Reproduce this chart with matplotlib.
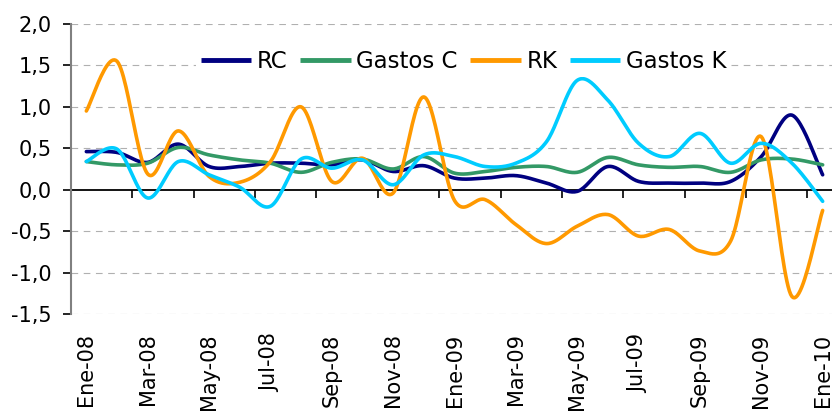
import numpy as np
import matplotlib
matplotlib.use("Agg")
import matplotlib.pyplot as plt

plt.rcParams['font.family'] = ['DejaVu Sans']

# monthly data, Ene-08 .. Ene-10
months = ['Ene-08', 'Feb-08', 'Mar-08', 'Abr-08', 'May-08', 'Jun-08', 'Jul-08',
          'Ago-08', 'Sep-08', 'Oct-08', 'Nov-08', 'Dic-08', 'Ene-09', 'Feb-09',
          'Mar-09', 'Abr-09', 'May-09', 'Jun-09', 'Jul-09', 'Ago-09', 'Sep-09',
          'Oct-09', 'Nov-09', 'Dic-09', 'Ene-10']

rc = [0.46, 0.45, 0.33, 0.55, 0.28, 0.28, 0.32, 0.32, 0.30, 0.36, 0.22, 0.29,
      0.14, 0.14, 0.17, 0.08, -0.02, 0.28, 0.10, 0.08, 0.08, 0.10, 0.40, 0.90, 0.18]
gastos_c = [0.34, 0.30, 0.32, 0.51, 0.42, 0.36, 0.32, 0.21, 0.33, 0.37, 0.25, 0.40,
            0.20, 0.22, 0.27, 0.28, 0.21, 0.39, 0.30, 0.27, 0.28, 0.21, 0.36, 0.37, 0.30]
rk = [0.95, 1.55, 0.19, 0.71, 0.16, 0.09, 0.34, 1.00, 0.10, 0.38, -0.04, 1.12,
      -0.13, -0.12, -0.42, -0.65, -0.44, -0.30, -0.56, -0.48, -0.74, -0.62, 0.64, -1.29, -0.25]
gastos_k = [0.34, 0.49, -0.10, 0.34, 0.18, 0.03, -0.20, 0.37, 0.26, 0.36, 0.06, 0.42,
            0.40, 0.28, 0.32, 0.58, 1.32, 1.08, 0.56, 0.40, 0.68, 0.32, 0.56, 0.32, -0.14]

series = [('RC', rc, '#000080'), ('Gastos C', gastos_c, '#339966'),
          ('RK', rk, '#FF9900'), ('Gastos K', gastos_k, '#00CCFF')]


def smooth(x, y, n=24):
    # Bezier smoothing like Excel's "smoothed line"
    x = np.asarray(x, float)
    y = np.asarray(y, float)
    px = np.concatenate([[x[0]], x, [x[-1]]])
    py = np.concatenate([[y[0]], y, [y[-1]]])
    xs, ys = [], []
    t = np.linspace(0, 1, n, endpoint=False)
    for i in range(1, len(px) - 2):
        p0 = np.array([px[i], py[i]])
        p3 = np.array([px[i + 1], py[i + 1]])
        c1 = p0 + (p3 - np.array([px[i - 1], py[i - 1]])) / 6
        c2 = p3 - (np.array([px[i + 2], py[i + 2]]) - p0) / 6
        pts = (((1 - t) ** 3)[:, None] * p0 + (3 * (1 - t) ** 2 * t)[:, None] * c1
               + (3 * (1 - t) * t ** 2)[:, None] * c2 + (t ** 3)[:, None] * p3)
        xs.append(pts[:, 0])
        ys.append(pts[:, 1])
    xs.append([x[-1]])
    ys.append([y[-1]])
    return np.concatenate(xs), np.concatenate(ys)


fig = plt.figure(figsize=(8.32, 4.12), dpi=100)
ax = fig.add_axes([71 / 832, 98 / 412, 767 / 832, 290 / 412])

xi = np.arange(len(months))
for name, vals, col in series:
    sx, sy = smooth(xi, vals)
    ax.plot(sx, sy, color=col, lw=2.6, label=name, solid_capstyle='round', zorder=3)

ax.set_xlim(-0.5, len(months) - 0.5)
ax.set_ylim(-1.5, 2.0)
yt = np.arange(-1.5, 2.01, 0.5)
ax.set_yticks(yt)
ax.set_yticklabels([f'{v:.1f}'.replace('.', ',') for v in yt])
for v in yt:
    if abs(v) > 1e-9:
        ax.axhline(v, color='#b0b0b0', lw=0.8, ls=(0, (6, 5)), zorder=1)

for s in ['top', 'right']:
    ax.spines[s].set_visible(False)
ax.spines['left'].set_color('#808080')
ax.spines['left'].set_linewidth(1.5)
ax.spines['bottom'].set_position(('data', 0))
ax.spines['bottom'].set_color('black')
ax.spines['bottom'].set_linewidth(1.3)
ax.spines['bottom'].set_zorder(2)

ax.set_xticks(np.arange(-0.5, len(months), 2))
ax.tick_params(axis='x', direction='out', length=6, width=1.2, labelbottom=False)
ax.tick_params(axis='y', direction='out', length=6, width=1.2, color='black',
               labelsize=15, pad=8)

sec = ax.secondary_xaxis(0)
sec.set_xticks(xi[::2])
sec.set_xticklabels(months[::2], rotation=90, fontsize=15)
sec.tick_params(length=0, pad=14)
sec.spines['bottom'].set_visible(False)

leg = ax.legend(ncol=4, loc='center', bbox_to_anchor=(0.512, 0.872),
                fontsize=16.5, handlelength=2.2, handletextpad=0.25,
                columnspacing=0.55, frameon=True, facecolor='white',
                edgecolor='none', framealpha=1, borderpad=0.2, fancybox=False)
for h in leg.get_lines():
    h.set_linewidth(3.5)
    h.set_solid_capstyle('butt')

fig.savefig('out.png', dpi=100)
